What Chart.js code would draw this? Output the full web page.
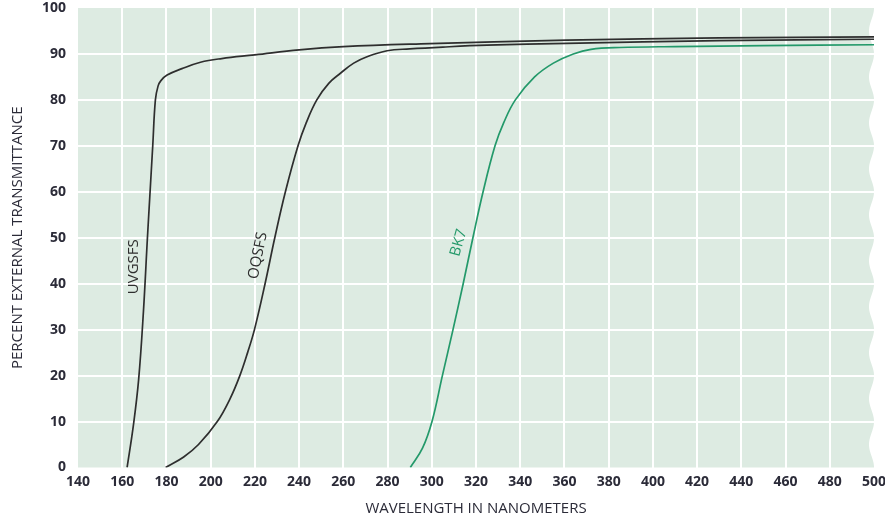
<!DOCTYPE html>
<html>
<head>
<meta charset="utf-8">
<script src="https://cdn.jsdelivr.net/npm/chart.js@4/dist/chart.umd.min.js"></script>
<style>
  html, body { margin: 0; padding: 0; background: #fff; }
  #wrap { width: 885px; height: 521px; position: relative; }
</style>
</head>
<body>
<div id="wrap"><canvas id="transmittance-chart"></canvas></div>
<script>
// wavelength (nm) / percent transmittance for each glass
const uvgsfsNm  = [162.2, 165, 167.4, 169.6, 171.4, 172.6, 173.8, 175, 176.2, 177.5, 180.3, 187, 195.4, 205, 220, 240, 260, 295, 361, 430, 500];
const uvgsfsPct = [0, 9, 19, 34, 50, 60, 70, 80, 83, 84.2, 85.4, 86.8, 88.2, 89, 89.8, 90.9, 91.6, 92.2, 93.0, 93.5, 93.7];

const oqsfsNm  = [179.6, 187.8, 194.5, 203, 208.8, 213.2, 216.7, 219.8, 224.6, 229, 233.8, 239.5, 243.2, 248, 253.4, 258.7, 264.7, 270.7, 279.8, 290, 305, 325, 361, 430, 500];
const oqsfsPct = [0, 2.3, 5, 10, 15, 20, 25, 30, 40, 50, 60, 70, 75, 80, 83.6, 85.8, 88, 89.4, 90.7, 91.1, 91.5, 91.9, 92.3, 92.9, 93.2];

const bk7Nm  = [290.3, 295.8, 300.1, 304.8, 309.6, 314.2, 318.6, 323.2, 328.6, 332.5, 337.8, 346.5, 355, 364, 372, 385, 410, 450, 500];
const bk7Pct = [0, 4.2, 10, 20, 30, 40, 50, 60, 70, 75, 80, 85, 88, 90, 91, 91.4, 91.6, 91.8, 92.0];

const xTickValues = [140, 160, 180, 200, 220, 240, 260, 280, 300, 320, 340, 360, 380, 400, 420, 440, 460, 480, 500];
const yTickValues = [0, 10, 20, 30, 40, 50, 60, 70, 80, 90, 100];

const darkLine = '#2e2e2e';
const greenLine = '#23996a';
const textColor = '#2b2b38';
const panelColor = '#ddebe2';

// in-plot curve names, anchored in data space
const curveLabels = [
  { text: 'UVGSFS', nm: 165.1, pct: 43.7, angle: -90, color: darkLine },
  { text: 'OQSFS', nm: 221.4, pct: 46.1, angle: -78.5, color: darkLine },
  { text: 'BK7', nm: 312.2, pct: 48.9, angle: -74, color: greenLine }
];

function toPoints(xs, ys) {
  return xs.map((x, i) => ({ x: x, y: ys[i] }));
}

// panel fill with a scalloped right edge
const panelBackground = {
  id: 'panelBackground',
  beforeDraw(chart) {
    const { ctx, chartArea: a } = chart;
    const period = (a.bottom - a.top) / 10;
    const amp = 5;
    ctx.save();
    ctx.fillStyle = panelColor;
    ctx.beginPath();
    ctx.moveTo(a.left, a.top);
    for (let y = a.top; y <= a.bottom; y += 0.5) {
      const x = a.right - amp * (1 - Math.cos(2 * Math.PI * (y - a.top) / period)) / 2;
      ctx.lineTo(x, y);
    }
    ctx.lineTo(a.left, a.bottom);
    ctx.closePath();
    ctx.fill();
    ctx.restore();
  }
};

const curveNames = {
  id: 'curveNames',
  afterDatasetsDraw(chart) {
    const { ctx, scales } = chart;
    ctx.save();
    ctx.font = '15px "Open Sans"';
    ctx.textAlign = 'center';
    ctx.textBaseline = 'middle';
    curveLabels.forEach(l => {
      ctx.save();
      ctx.translate(scales.x.getPixelForValue(l.nm), scales.y.getPixelForValue(l.pct));
      ctx.rotate(l.angle * Math.PI / 180);
      ctx.fillStyle = l.color;
      ctx.fillText(l.text, 0, 0);
      ctx.restore();
    });
    ctx.restore();
  }
};

const lineStyle = {
  borderWidth: 1.7,
  pointRadius: 0,
  fill: false,
  tension: 0.4
};

new Chart(document.getElementById('transmittance-chart'), {
  type: 'line',
  data: {
    datasets: [
      Object.assign({ label: 'UVGSFS', data: toPoints(uvgsfsNm, uvgsfsPct), borderColor: darkLine }, lineStyle),
      Object.assign({ label: 'OQSFS', data: toPoints(oqsfsNm, oqsfsPct), borderColor: darkLine }, lineStyle),
      Object.assign({ label: 'BK7', data: toPoints(bk7Nm, bk7Pct), borderColor: greenLine }, lineStyle)
    ]
  },
  options: {
    responsive: true,
    maintainAspectRatio: false,
    animation: false,
    layout: { padding: { top: 8, right: 11, left: 0, bottom: 0 } },
    plugins: {
      legend: { display: false },
      tooltip: { enabled: false }
    },
    scales: {
      x: {
        type: 'linear',
        min: 140,
        max: 500,
        afterBuildTicks: s => { s.ticks = xTickValues.map(v => ({ value: v })); },
        afterFit: s => { s.height = 53.5; s.paddingLeft = 0; s.paddingRight = 0; },
        border: { display: false },
        grid: {
          drawTicks: false,
          lineWidth: 2,
          color: c => (c.tick && (c.tick.value === 140 || c.tick.value === 500)) ? 'rgba(0,0,0,0)' : '#ffffff'
        },
        ticks: {
          padding: 6,
          maxRotation: 0,
          autoSkip: false,
          color: textColor,
          font: { family: '"Open Sans"', size: 14, weight: 'bold' }
        },
        title: {
          display: true,
          text: 'WAVELENGTH IN NANOMETERS',
          color: textColor,
          font: { family: '"Open Sans"', size: 15 },
          padding: { top: 0, bottom: 3 }
        }
      },
      y: {
        min: 0,
        max: 100,
        afterBuildTicks: s => { s.ticks = yTickValues.map(v => ({ value: v })); },
        afterFit: s => { s.width = 78; s.paddingTop = 0; s.paddingBottom = 0; },
        border: { display: false },
        grid: {
          drawTicks: false,
          lineWidth: 2,
          color: c => (c.tick && (c.tick.value === 0 || c.tick.value === 100)) ? 'rgba(0,0,0,0)' : '#ffffff'
        },
        ticks: {
          padding: 12,
          autoSkip: false,
          color: textColor,
          font: { family: '"Open Sans"', size: 14, weight: 'bold' }
        },
        title: {
          display: true,
          text: 'PERCENT EXTERNAL TRANSMITTANCE',
          color: textColor,
          font: { family: '"Open Sans"', size: 15 },
          padding: { top: 9, bottom: 0 }
        }
      }
    }
  },
  plugins: [panelBackground, curveNames]
});
</script>
</body>
</html>
